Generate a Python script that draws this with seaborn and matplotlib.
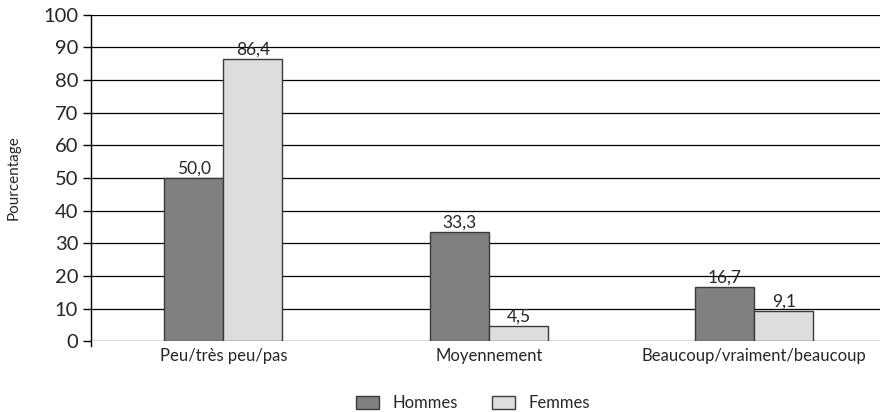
import matplotlib
matplotlib.use("Agg")
import matplotlib.pyplot as plt
import seaborn as sns
import pandas as pd

categories = ["Peu/très peu/pas", "Moyennement", "Beaucoup/vraiment/beaucoup"]
hommes = [50.0, 33.3, 16.7]
femmes = [86.4, 4.5, 9.1]
series = ["Hommes", "Femmes"]
yticks = list(range(0, 101, 10))

df = pd.DataFrame({
    "categorie": categories * 2,
    "valeur": hommes + femmes,
    "sexe": [series[0]] * 3 + [series[1]] * 3,
})

sns.set_theme(style="white")
plt.rcParams["font.family"] = ["Lato", "DejaVu Sans"]

fig = plt.figure(figsize=(8.8, 4.12), dpi=100)
ax = fig.add_axes([0.103, 0.172, 0.905, 0.792])

palette = {"Hommes": "#808080", "Femmes": "#dcdddf"}
sns.barplot(data=df, x="categorie", y="valeur", hue="sexe", order=categories,
            hue_order=series, palette=palette, width=0.445, saturation=1,
            edgecolor="#3a3a3a", linewidth=1.0, ax=ax, legend=True, zorder=3)

ax.set_xlim(-0.5, 2.5)
ax.set_yticks(yticks)
ax.yaxis.grid(True, color="black", linewidth=0.9, zorder=0)
ax.set_axisbelow(True)
for side in ["top", "right", "bottom"]:
    ax.spines[side].set_visible(False)
ax.spines["left"].set_color("black")
ax.spines["left"].set_linewidth(1.0)
ax.spines["left"].set_bounds(-1.5, 100)
ax.set_ylim(0, 100)
ax.tick_params(axis="y", direction="out", length=6, width=1, color="black",
               labelsize=14.5, pad=3, left=True)
ax.tick_params(axis="x", length=0, labelsize=12, pad=5)
ax.set_xlabel("")
ax.set_ylabel("Pourcentage", fontsize=11, labelpad=16)

for cont in ax.containers:
    labels = [f"{v:.1f}".replace(".", ",") for v in cont.datavalues]
    ax.bar_label(cont, labels=labels, padding=1, fontsize=12.5)

leg = ax.legend(loc="upper center", bbox_to_anchor=(0.48, -0.12), ncol=2,
                frameon=False, fontsize=12, handlelength=1.4, handleheight=0.9,
                columnspacing=2.0, handletextpad=0.8)

fig.savefig("out.png", dpi=100)
